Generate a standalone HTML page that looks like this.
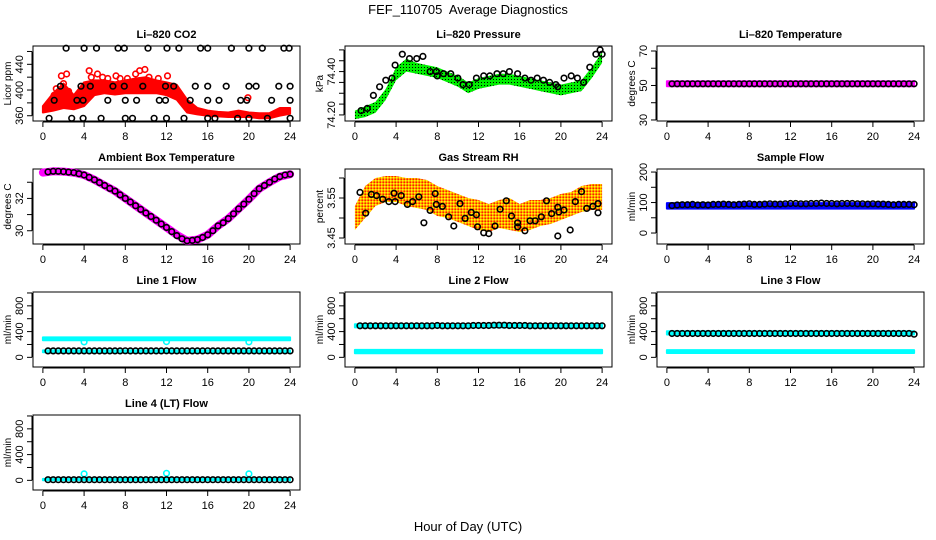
<!DOCTYPE html>
<html><head><meta charset="utf-8"><style>
html,body{margin:0;padding:0;background:#fff}
svg{display:block;font-family:"Liberation Sans",sans-serif}
</style></head><body>
<svg id="chart" width="936" height="540" viewBox="0 0 936 540" xmlns="http://www.w3.org/2000/svg">
<defs>
<pattern id="pgreen" width="3" height="3" patternUnits="userSpaceOnUse"><rect width="3" height="3" fill="#00ee00"/><rect x="1" y="1" width="1" height="1" fill="#000"/></pattern>
<pattern id="porange" width="3" height="3" patternUnits="userSpaceOnUse"><rect width="3" height="3" fill="#ffa500"/><rect x="0" y="0" width="1.5" height="1.5" fill="#ffff00"/><rect x="1.5" y="1.5" width="1.5" height="1.5" fill="#ff2000"/></pattern>
</defs>
<text x="468" y="14" font-size="13" text-anchor="middle" style="white-space:pre">FEF_110705  Average Diagnostics</text>
<text x="468" y="531" font-size="13" text-anchor="middle">Hour of Day (UTC)</text>
</svg>
<script>
// ---- shared x axis
const xTicks = [0,4,8,12,16,20,24];
const halfHours = [0.5,1,1.5,2,2.5,3,3.5,4,4.5,5,5.5,6,6.5,7,7.5,8,8.5,9,9.5,10,10.5,11,11.5,12,12.5,13,13.5,14,14.5,15,15.5,16,16.5,17,17.5,18,18.5,19,19.5,20,20.5,21,21.5,22,22.5,23,23.5,24];
const hours = [0,1,2,3,4,5,6,7,8,9,10,11,12,13,14,15,16,17,18,19,20,21,22,23,24];
const ends = [0,24];

// ---- CO2
const co2Lo = [365,368,372,370,375,392,395,393,395,395,395,395,392,385,365,362,360,359,358,358,358,356,356,360,363];
const co2Hi = [375,395,410,392,412,415,415,412,415,418,420,415,412,408,385,372,368,366,365,368,365,364,364,372,372];
const co2OutH = [1.3,1.8,2.0,2.3,2.5,4.5,4.7,5.3,5.8,6.3,7.1,7.5,8.2,9.0,9.4,9.9,10.3,11.2,12.1,19.9,3.0,1.1];
const co2OutV = [402,422,410,425,398,430,420,425,420,418,422,418,418,425,430,432,420,418,422,388,385,392];
const co2CircH = [2.25,4.0,5.2,7.3,7.9,10.2,12.05,13.2,15.3,16,18.3,20,21.3,23.4,23.9, 1.7,3.7,4.6,6.8,7.9,9.7,11.9,12.7,14.8,16,17.8,20,20.7,22.9,24, 1.1,3.3,3.9,6.3,8.0,9.1,11.3,11.9,14.3,16.0,17.1,19.2,19.8,22.2,24, 0.6,2.8,3.9,5.65,8.0,8.7,10.8,12,13.7,16,16.7,18.9,20,21.8,24];
const co2CircV = [465,465,465,465,465,465,465,465,465,465,465,465,465,465,465, 406,406,406,406,406,406,406,406,406,406,406,406,406,406,406, 384,384,384,384,384,384,384,384,384,384,384,384,384,384,384, 356,356,356,356,356,356,356,356,356,356,356,356,356,356,356];
// ---- Pressure
const presLo = [74.18,74.19,74.21,74.27,74.36,74.40,74.39,74.38,74.37,74.35,74.33,74.30,74.32,74.33,74.34,74.34,74.33,74.32,74.31,74.30,74.29,74.30,74.31,74.37,74.44];
const presHi = [74.22,74.24,74.26,74.32,74.42,74.46,74.44,74.43,74.42,74.40,74.38,74.35,74.37,74.38,74.39,74.39,74.38,74.37,74.36,74.35,74.34,74.35,74.36,74.42,74.49];
const presCircH = [0.6,1.2,1.8,2.4,3.0,3.6,3.9,4.6,5.3,6.0,6.6,7.3,7.9,8.0,8.6,9.3,10.0,10.5,11.1,11.8,12.5,13.1,13.8,14.4,15.0,15.8,16.5,17.1,17.7,18.3,18.9,19.5,19.7,20.3,21.0,21.6,22.2,22.8,23.4,23.8,24.0];
const presCircV = [74.22,74.23,74.29,74.33,74.36,74.37,74.43,74.48,74.46,74.46,74.47,74.40,74.40,74.38,74.39,74.39,74.37,74.34,74.34,74.37,74.38,74.38,74.39,74.39,74.40,74.39,74.37,74.36,74.37,74.36,74.35,74.34,74.33,74.37,74.38,74.37,74.35,74.42,74.48,74.50,74.48];
// ---- Li-820 temperature
const tempLo = [49.5,49.5];
const tempHi = [52.5,52.5];
const tempCircV = [51,51,51,51,51,51,51,51,51,51,51,51,51,51,51,51,51,51,51,51,51,51,51,51,51,51,51,51,51,51,51,51,51,51,51,51,51,51,51,51,51,51,51,51,51,51,51,51];
// ---- Ambient box temperature
const ambV = [33.6,33.68,33.66,33.6,33.45,33.15,32.8,32.45,32.0,31.55,31.1,30.65,30.2,29.75,29.38,29.45,29.75,30.3,30.75,31.35,31.95,32.6,33.0,33.35,33.5];
const ambCircV = [33.64,33.68,33.68,33.66,33.63,33.6,33.53,33.45,33.3,33.15,32.98,32.8,32.62,32.45,32.22,32.0,31.78,31.55,31.32,31.1,30.88,30.65,30.42,30.2,29.95,29.7,29.5,29.38,29.4,29.45,29.58,29.75,30.0,30.3,30.5,30.75,31.05,31.35,31.65,31.95,32.3,32.6,32.8,33.0,33.2,33.35,33.45,33.5];
// ---- Gas stream RH
const rhLo = [3.47,3.50,3.53,3.54,3.54,3.53,3.525,3.52,3.505,3.50,3.49,3.48,3.47,3.465,3.475,3.47,3.465,3.47,3.48,3.485,3.495,3.505,3.515,3.52,3.52];
const rhHi = [3.53,3.58,3.60,3.605,3.605,3.60,3.60,3.595,3.58,3.57,3.56,3.55,3.545,3.535,3.545,3.55,3.535,3.545,3.545,3.55,3.56,3.565,3.58,3.585,3.585];
const rhCircH = [0.5,1.05,1.6,2.1,2.7,3.3,3.8,3.9,4.5,5.1,5.6,6.2,6.7,7.3,7.8,7.9,8.5,9.1,9.6,10.2,10.7,11.3,11.8,11.9,12.5,13.0,13.6,14.1,14.7,15.2,15.8,15.8,16.5,17.0,17.5,18.1,18.6,19.1,19.7,19.7,19.8,20.3,20.9,21.4,22.0,22.5,23.1,23.6,23.6];
const rhCircV = [3.564,3.512,3.559,3.556,3.547,3.541,3.562,3.541,3.556,3.534,3.541,3.553,3.488,3.519,3.561,3.534,3.529,3.503,3.48,3.536,3.499,3.514,3.508,3.478,3.463,3.461,3.48,3.522,3.543,3.505,3.488,3.478,3.468,3.493,3.493,3.503,3.543,3.511,3.455,3.527,3.515,3.52,3.47,3.541,3.566,3.524,3.529,3.536,3.513];
// ---- Sample flow
const sfLo = [80,80];
const sfHi = [98,98];
const sfCircV = [90,92,93,93,94,92,93,92,94,94,95,94,93,94,95,96,94,94,95,96,95,95,96,97,97,96,96,97,97,98,97,97,96,97,97,97,96,96,95,96,95,95,94,93,94,94,94,93];
// ---- Line flows
const l1BandLo = [265,265]; const l1BandHi = [310,310];
const l1LowLo = [80,80]; const l1LowHi = [108,108];
const l1CircV = [100,100,100,100,100,100,100,100,100,100,100,100,100,100,100,102,100,100,100,100,100,100,100,102,100,100,100,100,100,100,100,102,100,100,100,100,100,100,100,100,100,100,100,100,100,100,100,100];
const l1OutH = [4,12,20]; const l1OutV = [240,245,240];
const l2BandLo = [465,465]; const l2BandHi = [515,515];
const l2LowLo = [65,65]; const l2LowHi = [115,115];
const l2CircV = [490,490,490,490,490,490,490,490,490,490,490,490,490,490,490,495,490,490,490,490,490,490,495,495,495,495,500,500,500,495,495,495,495,490,490,490,490,490,490,490,490,490,490,490,490,490,490,490];
const l3BandLo = [355,355]; const l3BandHi = [405,405];
const l3LowLo = [68,68]; const l3LowHi = [112,112];
const l3CircV = [370,370,370,370,370,370,370,370,370,370,370,370,370,370,370,370,370,370,370,370,370,370,370,370,370,370,370,370,370,370,370,370,370,370,370,370,370,370,370,370,370,370,370,370,370,370,370,360];
const l4BandLo = [0,0]; const l4BandHi = [22,22];
const l4CircV = [10,10,10,10,10,10,10,10,10,10,10,10,10,10,10,10,10,10,10,10,10,10,10,10,10,10,10,10,10,10,10,10,10,10,10,10,10,10,10,10,10,10,10,10,10,10,10,10];
const l4OutH = [4,12,20]; const l4OutV = [100,110,100];

const NS = 'http://www.w3.org/2000/svg';
const svg = document.getElementById('chart');
function mk(tag, attrs, parent){
  const e = document.createElementNS(NS, tag);
  for (const k in attrs) e.setAttribute(k, attrs[k]);
  parent.appendChild(e);
  return e;
}
function panel(key, col, row, title, ylab, ylim, yticks, ylabels){
  const left = 33 + col*312, top = 46 + row*123, w = 267, h = 75;
  const g = mk('g', {}, svg);
  
  
  const sx = v => left + (v + 0.96) / 25.92 * w;
  const sy = v => top + h - (v - ylim[0]) / (ylim[1] - ylim[0]) * h;
  const t = mk('text', {x: left + w/2, y: top - 8, 'font-size': 11, 'font-weight': 'bold', 'text-anchor': 'middle'}, g);
  t.textContent = title;
  
  
  const yl = mk('text', {x: 0, y: 0, 'font-size': 10, 'text-anchor': 'middle', transform: `translate(${left-22},${top+h/2}) rotate(-90)`}, g);
  yl.textContent = ylab;
  
  
  const xa = mk('g', {}, g);
  
  
  mk('line', {x1: sx(xTicks[0]), x2: sx(xTicks[xTicks.length-1]), y1: top+h+1, y2: top+h+1, stroke: '#000'}, xa);
  xTicks.forEach(v => {
    mk('line', {x1: sx(v), x2: sx(v), y1: top+h+1, y2: top+h+6, stroke: '#000'}, xa);
    const tl = mk('text', {x: sx(v), y: top+h+19, 'font-size': 11, 'text-anchor': 'middle'}, xa);
    tl.textContent = v;
    
    
  });
  const ya = mk('g', {}, g);
  
  
  mk('line', {x1: left-1, x2: left-1, y1: sy(yticks[0]), y2: sy(yticks[yticks.length-1]), stroke: '#000'}, ya);
  yticks.forEach((v, i) => {
    mk('line', {x1: left-1, x2: left-6, y1: sy(v), y2: sy(v), stroke: '#000'}, ya);
    if (ylabels[i] !== '') {
      const tl = mk('text', {x: 0, y: 0, 'font-size': 11, 'text-anchor': 'middle', transform: `translate(${left-10},${sy(v)}) rotate(-90)`}, ya);
      tl.textContent = ylabels[i];
      
      
    }
  });
  const box = mk('rect', {x: left, y: top, width: w, height: h, fill: 'none', stroke: '#000'}, g);
  
  
  const clipG = mk('g', {}, g);
  return {g: clipG, sx, sy, key};
}
function band(p, name, xs, lo, hi, fill){
  let d = xs.map((x,i) => `${i?'L':'M'}${p.sx(x).toFixed(1)},${p.sy(hi[i]).toFixed(1)}`).join('');
  for (let i = xs.length-1; i >= 0; i--) d += `L${p.sx(xs[i]).toFixed(1)},${p.sy(lo[i]).toFixed(1)}`;
  const e = mk('path', {d: d + 'Z', fill: fill, stroke: fill.startsWith('url') ? 'none' : fill, 'stroke-width': 2, 'stroke-linejoin': 'round'}, p.g);
  
  
}
function thick(p, name, xs, ys, color, width){
  const d = xs.map((x,i) => `${i?'L':'M'}${p.sx(x).toFixed(1)},${p.sy(ys[i]).toFixed(1)}`).join('');
  const e = mk('path', {d, fill: 'none', stroke: color, 'stroke-width': width, 'stroke-linecap': 'round', 'stroke-linejoin': 'round'}, p.g);
  
  
}
function circles(p, name, xs, ys, color){
  const gg = mk('g', {}, p.g);
  
  
  xs.forEach((x,i) => {
    const c = mk('circle', {cx: p.sx(x).toFixed(1), cy: p.sy(ys[i]).toFixed(1), r: 2.8, fill: 'none', stroke: color, 'stroke-width': 1.6}, gg);
    
    
  });
}

let p;
p = panel('co2', 0, 0, 'Li\u2013820 CO2', 'Licor ppm', [351.8, 468.5], [360,380,400,420,440,460], ['360','','400','','440','']);
band(p, 'co2-band', hours, co2Lo, co2Hi, '#ff0000');
circles(p, 'co2-outliers', co2OutH, co2OutV, '#ff0000');
circles(p, 'co2-averages', co2CircH, co2CircV, '#000');

p = panel('pressure', 1, 0, 'Li\u2013820 Pressure', 'kPa', [74.172, 74.518], [74.20,74.25,74.30,74.35,74.40,74.45,74.50], ['74.20','','','','74.40','','']);
band(p, 'pressure-band', hours, presLo, presHi, 'url(#pgreen)');
circles(p, 'pressure-averages', presCircH, presCircV, '#000');

p = panel('li820-temp', 2, 0, 'Li\u2013820 Temperature', 'degrees C', [29.4, 72.9], [30,40,50,60,70], ['30','','50','','70']);
band(p, 'temp-band', ends, tempLo, tempHi, '#ff00ff');
circles(p, 'temp-averages', halfHours, tempCircV, '#000');

p = panel('ambient', 0, 1, 'Ambient Box Temperature', 'degrees C', [29.18, 33.82], [30,31,32,33], ['30','','32','']);
thick(p, 'ambient-line', hours, ambV, '#ff00ff', 8);
circles(p, 'ambient-averages', halfHours, ambCircV, '#000');

p = panel('rh', 1, 1, 'Gas Stream RH', 'percent', [3.435, 3.6225], [3.45,3.50,3.55,3.60], ['3.45','','3.55','']);
band(p, 'rh-band', hours, rhLo, rhHi, 'url(#porange)');
circles(p, 'rh-averages', rhCircH, rhCircV, '#000');

p = panel('sample-flow', 2, 1, 'Sample Flow', 'ml/min', [-36, 210], [0,50,100,150,200], ['0','','100','','200']);
band(p, 'sample-band', ends, sfLo, sfHi, '#0000ff');
circles(p, 'sample-averages', halfHours, sfCircV, '#000');

const flowTicks = [0,200,400,600,800,1000], flowLabels = ['0','','400','','800',''];
p = panel('line1', 0, 2, 'Line 1 Flow', 'ml/min', [-150, 1015], flowTicks, flowLabels);
band(p, 'line1-upper-band', ends, l1BandLo, l1BandHi, '#00ffff');
band(p, 'line1-lower-band', ends, l1LowLo, l1LowHi, '#00ffff');
circles(p, 'line1-outliers', l1OutH, l1OutV, '#00ffff');
circles(p, 'line1-averages', halfHours, l1CircV, '#000');

p = panel('line2', 1, 2, 'Line 2 Flow', 'ml/min', [-150, 1015], flowTicks, flowLabels);
band(p, 'line2-upper-band', ends, l2BandLo, l2BandHi, '#00ffff');
band(p, 'line2-lower-band', ends, l2LowLo, l2LowHi, '#00ffff');
circles(p, 'line2-averages', halfHours, l2CircV, '#000');

p = panel('line3', 2, 2, 'Line 3 Flow', 'ml/min', [-150, 1015], flowTicks, flowLabels);
band(p, 'line3-upper-band', ends, l3BandLo, l3BandHi, '#00ffff');
band(p, 'line3-lower-band', ends, l3LowLo, l3LowHi, '#00ffff');
circles(p, 'line3-averages', halfHours, l3CircV, '#000');

p = panel('line4', 0, 3, 'Line 4 (LT) Flow', 'ml/min', [-150, 1015], flowTicks, flowLabels);
band(p, 'line4-band', ends, l4BandLo, l4BandHi, '#00ffff');
circles(p, 'line4-outliers', l4OutH, l4OutV, '#00ffff');
circles(p, 'line4-averages', halfHours, l4CircV, '#000');
</script>
</body></html>
